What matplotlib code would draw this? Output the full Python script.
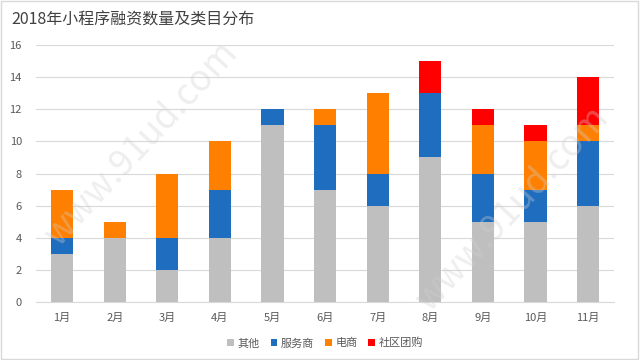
import numpy as np
import matplotlib.pyplot as plt

plt.rcParams['font.family'] = ['Noto Sans CJK SC', 'DejaVu Sans']

months = ["1月", "2月", "3月", "4月", "5月", "6月", "7月", "8月", "9月", "10月", "11月"]
other = [3, 4, 2, 4, 11, 7, 6, 9, 5, 5, 6]
service = [1, 0, 2, 3, 1, 4, 2, 4, 3, 2, 4]
ecommerce = [3, 1, 4, 3, 0, 1, 5, 0, 3, 3, 1]
group_buy = [0, 0, 0, 0, 0, 0, 0, 2, 1, 1, 3]

series = [("其他", other, "#BFBFBF"),
          ("服务商", service, "#1F6DBF"),
          ("电商", ecommerce, "#FF8000"),
          ("社区团购", group_buy, "#FF0000")]

fig = plt.figure(figsize=(6.4, 3.6), dpi=100)
fig.patches.append(plt.Rectangle((0.002, 0.003), 0.995, 0.994, transform=fig.transFigure,
                                 fill=False, edgecolor="#D9D9D9", linewidth=1))
ax = fig.add_axes([0.056, 0.161, 0.904, 0.714])

x = np.arange(len(months))
bottom = np.zeros(len(months))
for name, vals, color in series:
    ax.bar(x, vals, width=0.42, bottom=bottom, color=color, label=name, zorder=3)
    bottom += np.array(vals)

ax.set_xlim(-0.5, len(months) - 0.5)
ax.set_ylim(0, 16)
ax.set_yticks(range(0, 17, 2))
ax.set_xticks(x)
ax.set_xticklabels(months)
ax.tick_params(length=0, labelsize=8, colors="#595959")
ax.tick_params(axis="y", pad=10)
ax.tick_params(axis="x", pad=8)
ax.grid(axis="y", color="#D9D9D9", linewidth=0.8, zorder=0)
for s in ["top", "right", "left"]:
    ax.spines[s].set_visible(False)
ax.spines["bottom"].set_color("#D9D9D9")

fig.text(0.018, 0.945, "2018年小程序融资数量及类目分布", fontsize=11.5, color="#404040", va="center")

ax.legend(loc="upper center", bbox_to_anchor=(0.5, -0.1), ncol=4, frameon=False,
          fontsize=8, handlelength=0.6, handleheight=0.6, handletextpad=0.3,
          columnspacing=1.0, labelcolor="#595959")

# faint watermark
for tx, ty in [(0.22, 0.6), (0.8, 0.42)]:
    fig.text(tx, ty, "www.91ud.com", fontsize=26, color="#D0D0D0", alpha=0.35, rotation=47,
             ha="center", va="center", zorder=10)

fig.savefig("out.png", dpi=100, facecolor="white")
